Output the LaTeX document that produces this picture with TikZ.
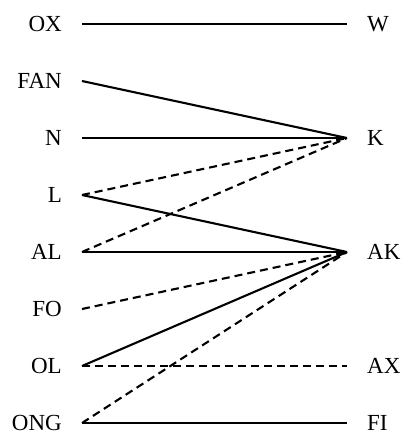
\documentclass[tikz,border=0pt]{standalone}
\usepackage{fontspec}
\setmainfont{Liberation Serif}
\begin{document}
\begin{tikzpicture}[x=1pt,y=-1pt,
  lab/.style={font=\fontsize{23}{27}\selectfont, inner xsep=20pt, inner ysep=0pt,
              text height=15.2pt, text depth=0pt},
  lft/.style={lab, anchor=east},
  rgt/.style={lab, anchor=west},
  link/.style={line width=2.1pt, line cap=butt},
  dlink/.style={link, dash pattern=on 8pt off 5pt}]
\useasboundingbox (0,0) rectangle (402,434);
% left column
\node[lft] (OX)  at (82,24)  {OX};
\node[lft] (FAN) at (82,81)  {FAN};
\node[lft] (N)   at (82,138) {N};
\node[lft] (L)   at (82,195) {L};
\node[lft] (AL)  at (82,252) {AL};
\node[lft] (FO)  at (82,309) {FO};
\node[lft] (OL)  at (82,366) {OL};
\node[lft] (ONG) at (82,423) {ONG};
% right column
\node[rgt] (W)  at (347,24)  {W};
\node[rgt] (K)  at (347,138) {K};
\node[rgt] (AK) at (347,252) {AK};
\node[rgt] (AX) at (347,366) {AX};
\node[rgt] (FI) at (347,423) {FI};
% connections
\draw[link]  (OX.east)  -- (W.west);
\draw[link]  (FAN.east) -- (K.west);
\draw[link]  (N.east)   -- (K.west);
\draw[dlink] (L.east)   -- (K.west);
\draw[dlink] (AL.east)  -- (K.west);
\draw[link]  (L.east)   -- (AK.west);
\draw[link]  (AL.east)  -- (AK.west);
\draw[dlink] (FO.east)  -- (AK.west);
\draw[link]  (OL.east)  -- (AK.west);
\draw[dlink] (ONG.east) -- (AK.west);
\draw[dlink] (OL.east)  -- (AX.west);
\draw[link]  (ONG.east) -- (FI.west);
\end{tikzpicture}
\end{document}
